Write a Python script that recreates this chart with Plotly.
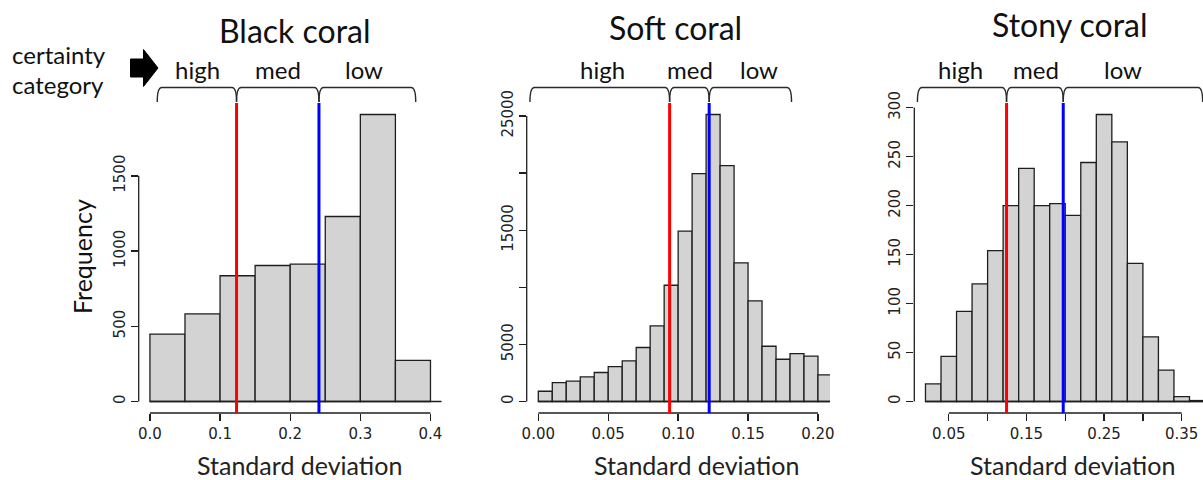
import numpy as np
import plotly.graph_objects as go

W, H = 1203, 480

# ---------------- data ----------------
titles = ["Black coral", "Soft coral", "Stony coral"]
categories = ["high", "med", "low"]

black_bin_start, black_bin_width = 0.0, 0.05
black_counts = [448, 583, 836, 904, 913, 1230, 1908, 273]
black_thresholds = [0.1235, 0.241]          # red (high/med), blue (med/low)

soft_bin_start, soft_bin_width = 0.0, 0.01
soft_counts = [900, 1660, 1780, 2150, 2540, 3060, 3560, 4730, 6620, 10180, 14910,
               19960, 25130, 20660, 12140, 8810, 4840, 3700, 4200, 3970, 2330]
soft_thresholds = [0.0939, 0.1222]

stony_bin_start, stony_bin_width = 0.02, 0.02
stony_counts = [18, 46, 92, 120, 154, 200, 238, 200, 202, 190, 244, 293, 265,
                141, 66, 32, 5, 1]
stony_thresholds = [0.1244, 0.1974]

black_xticks = [0.0, 0.1, 0.2, 0.3, 0.4]
black_xticktext = ["0.0", "0.1", "0.2", "0.3", "0.4"]
black_yticks = [0, 500, 1000, 1500]
black_yticktext = ["0", "500", "1000", "1500"]

soft_xticks = [0.0, 0.05, 0.10, 0.15, 0.20]
soft_xticktext = ["0.00", "0.05", "0.10", "0.15", "0.20"]
soft_yticks = [0, 5000, 10000, 15000, 20000, 25000]
soft_yticktext = ["0", "5000", "", "15000", "", "25000"]

stony_xticks = [0.05, 0.10, 0.15, 0.20, 0.25, 0.30, 0.35]
stony_xticktext = ["0.05", "", "0.15", "", "0.25", "", "0.35"]
stony_yticks = [0, 50, 100, 150, 200, 250, 300]
stony_yticktext = ["0", "50", "100", "150", "200", "250", "300"]

# bracket extents (data units): left end, right end
black_bracket_ends = [0.0104, 0.379]
soft_bracket_ends = [-0.006, 0.1811]
stony_bracket_ends = [0.0096, 0.377]

# ---------------- layout helpers ----------------
def px(x):
    return x / W

def py(y):
    return 1 - y / H

panels = [
    dict(counts=black_counts, start=black_bin_start, bw=black_bin_width,
         thr=black_thresholds, xt=black_xticks, xtt=black_xticktext,
         yt=black_yticks, ytt=black_yticktext, ends=black_bracket_ends,
         xrange=[-0.016, 0.416], dom=[138.7, 441.7],
         title_xy=(295, 30), lab_x=[197, 278, 364], xlab_x=299),
    dict(counts=soft_counts, start=soft_bin_start, bw=soft_bin_width,
         thr=soft_thresholds, xt=soft_xticks, xtt=soft_xticktext,
         yt=soft_yticks, ytt=soft_yticktext, ends=soft_bracket_ends,
         xrange=[-0.0083, 0.2086], dom=[526.7, 830.0],
         title_xy=(675, 27), lab_x=[602, 690, 759], xlab_x=696),
    dict(counts=stony_counts, start=stony_bin_start, bw=stony_bin_width,
         thr=stony_thresholds, xt=stony_xticks, xtt=stony_xticktext,
         yt=stony_yticks, ytt=stony_yticktext, ends=stony_bracket_ends,
         xrange=[0.0056, 0.3774], dom=[914.3, 1203.0],
         title_xy=(1070, 24), lab_x=[961, 1036, 1123], xlab_x=1072),
]

ydom = [py(413), py(103)]
AX = "#1e1e1e"
TXT = "Lato"
TICKFONT = dict(family="DejaVu Sans", size=15, color="#222222")

fig = go.Figure()
shapes, annotations = [], []
layout = dict(width=W, height=H, autosize=False,
              margin=dict(l=0, r=0, t=0, b=0),
              paper_bgcolor="white", plot_bgcolor="white",
              showlegend=False, bargap=0)

for i, p in enumerate(panels):
    n = "" if i == 0 else str(i + 1)
    xa, ya = "x" + n, "y" + n
    counts = np.array(p["counts"], dtype=float)
    edges = p["start"] + p["bw"] * np.arange(len(counts) + 1)
    centers = (edges[:-1] + edges[1:]) / 2
    ymax = counts.max()
    yrange = [-0.04 * ymax, 1.04 * ymax]

    fig.add_trace(go.Bar(x=centers, y=counts, width=p["bw"],
                         marker=dict(color="#d3d3d3",
                                     line=dict(color=AX, width=1.3)),
                         xaxis=xa, yaxis=ya, hoverinfo="skip"))

    common = dict(showgrid=False, zeroline=False, showline=False,
                  ticks="outside", ticklen=7, tickwidth=1.3, tickcolor=AX,
                  tickfont=TICKFONT, automargin=False, fixedrange=True)
    layout["xaxis" + n] = dict(domain=[px(p["dom"][0]), px(p["dom"][1])],
                               range=p["xrange"], anchor=ya,
                               tickmode="array", tickvals=p["xt"],
                               ticktext=p["xtt"], **common)
    layout["yaxis" + n] = dict(domain=ydom, range=yrange, anchor=xa,
                               tickmode="array", tickvals=p["yt"],
                               ticktext=p["ytt"], tickangle=-90, **common)

    # R-style axis lines spanning first to last tick
    shapes.append(dict(type="line", xref=xa, yref=ya + " domain",
                       x0=p["xt"][0], x1=p["xt"][-1], y0=0, y1=0,
                       line=dict(color=AX, width=1.3)))
    shapes.append(dict(type="line", xref=xa + " domain", yref=ya,
                       x0=0, x1=0, y0=p["yt"][0], y1=p["yt"][-1],
                       line=dict(color=AX, width=1.3)))
    # baseline
    shapes.append(dict(type="line", xref=xa, yref=ya,
                       x0=edges[0], x1=p["xrange"][1], y0=0, y1=0,
                       line=dict(color=AX, width=1.3)))
    # threshold lines
    for t, c in zip(p["thr"], ["#ff0000", "#0000ff"]):
        shapes.append(dict(type="line", xref=xa, yref=ya + " domain",
                           x0=t, x1=t, y0=0, y1=1,
                           line=dict(color=c, width=3)))
    # brackets
    pxper = (p["dom"][1] - p["dom"][0]) / (p["xrange"][1] - p["xrange"][0])
    dx = 4.5 / pxper
    yt_, yb_ = py(87.5), py(102)
    bounds = [p["ends"][0]] + list(p["thr"]) + [p["ends"][1]]
    for a, b in zip(bounds[:-1], bounds[1:]):
        path = (f"M {a},{yb_} Q {a},{yt_} {a+dx},{yt_} "
                f"L {b-dx},{yt_} Q {b},{yt_} {b},{yb_}")
        shapes.append(dict(type="path", xref=xa, yref="paper", path=path,
                           line=dict(color="#2a2a2a", width=1.4)))
    # category labels
    for lab, lx in zip(categories, p["lab_x"]):
        annotations.append(dict(text=lab, x=px(lx), y=py(69), xref="paper",
                                yref="paper", showarrow=False,
                                xanchor="center", yanchor="middle",
                                font=dict(family=TXT, size=24, color="#111")))
    # title
    annotations.append(dict(text=titles[i], x=px(p["title_xy"][0]),
                            y=py(p["title_xy"][1]), xref="paper", yref="paper",
                            showarrow=False, xanchor="center", yanchor="middle",
                            font=dict(family=TXT, size=32, color="#111")))
    # x axis title
    annotations.append(dict(text="Standard deviation", x=px(p["xlab_x"]),
                            y=py(465), xref="paper", yref="paper",
                            showarrow=False, xanchor="center", yanchor="middle",
                            font=dict(family=TXT, size=25, color="#222")))

# y axis title
annotations.append(dict(text="Frequency", x=px(82), y=py(257), xref="paper",
                        yref="paper", showarrow=False, textangle=-90,
                        xanchor="center", yanchor="middle",
                        font=dict(family=TXT, size=25, color="#111")))
# certainty category
annotations.append(dict(text="certainty", x=px(10), y=py(54), xref="paper",
                        yref="paper", showarrow=False, xanchor="left",
                        yanchor="middle",
                        font=dict(family=TXT, size=24, color="#111")))
annotations.append(dict(text="category", x=px(10), y=py(84), xref="paper",
                        yref="paper", showarrow=False, xanchor="left",
                        yanchor="middle",
                        font=dict(family=TXT, size=24, color="#111")))
# block arrow
ax0, axm, axt = 130.5, 143.5, 158.0
ayc, sh, hh = 68.0, 9.0, 18.5
arrow = (f"M {px(ax0)},{py(ayc-sh)} L {px(axm)},{py(ayc-sh)} "
         f"L {px(axm)},{py(ayc-hh)} L {px(axt)},{py(ayc)} "
         f"L {px(axm)},{py(ayc+hh)} L {px(axm)},{py(ayc+sh)} "
         f"L {px(ax0)},{py(ayc+sh)} Z")
shapes.append(dict(type="path", xref="paper", yref="paper", path=arrow,
                   fillcolor="#000", line=dict(color="#000", width=1)))

layout["shapes"] = shapes
layout["annotations"] = annotations
fig.update_layout(**layout)
fig.write_html("out.html",
               config={"displayModeBar": False, "staticPlot": True},
               post_script="document.body.style.margin='0';"
                           "document.body.style.overflow='hidden';")
